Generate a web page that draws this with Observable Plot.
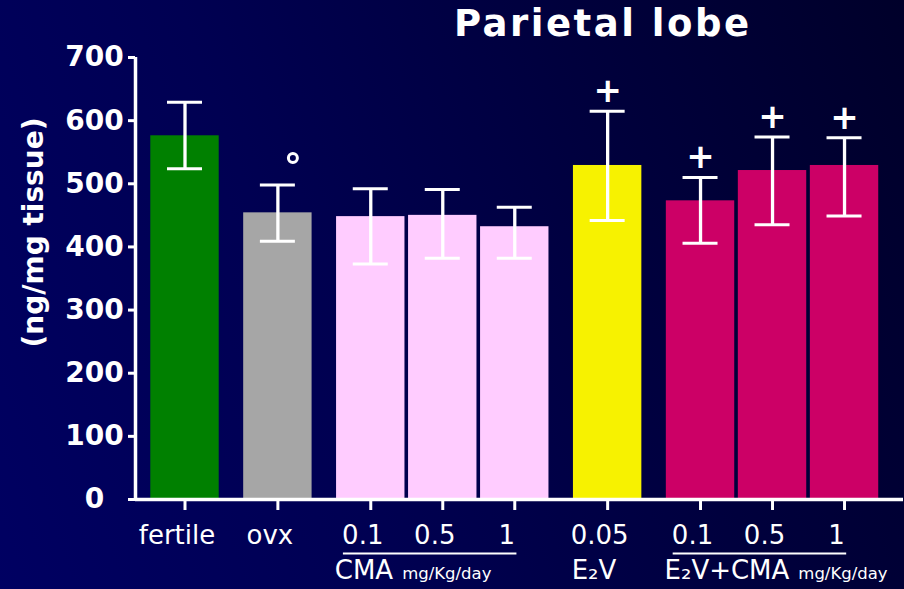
<!DOCTYPE html>
<html>
<head>
<meta charset="utf-8">
<script src="https://cdn.jsdelivr.net/npm/d3@7"></script>
<script src="https://cdn.jsdelivr.net/npm/@observablehq/plot@0.6"></script>
<style>
  html, body { margin: 0; padding: 0; }
  #wrap {
    position: relative; width: 904px; height: 589px; overflow: hidden;
    background: linear-gradient(70deg, #000062 0%, #000052 35%, #00003c 70%, #00002a 100%);
  }
  #title {
    position: absolute; left: 454px; top: 5px;
    font-family: "DejaVu Sans", sans-serif; font-weight: bold; font-size: 37px;
    line-height: 37px; letter-spacing: 2.5px; color: #ffffff; white-space: nowrap;
  }
  #chart { position: absolute; left: 0; top: 0; }
</style>
</head>
<body>
<div id="wrap">
  <div id="chart"></div>
  <div id="title">Parietal lobe</div>
</div>
<script>
// ---- data ----
const categories = ["fertile", "ovx", "CMA 0.1", "CMA 0.5", "CMA 1", "E2V 0.05", "E2V+CMA 0.1", "E2V+CMA 0.5", "E2V+CMA 1"];
const groupOf    = ["fertile", "ovx", "CMA", "CMA", "CMA", "E2V", "E2V+CMA", "E2V+CMA", "E2V+CMA"];
const tickLabels = ["fertile", "ovx", "0.1", "0.5", "1", "0.05", "0.1", "0.5", "1"];
const means      = [576, 454, 448, 450, 432, 529, 473, 521, 529];
const errHigh    = [629, 498, 492, 491, 463, 615, 510, 574, 573];
const errLow     = [524, 409, 373, 382, 382, 442, 406, 435, 449];
const colors     = ["#008000", "#a6a6a6", "#ffccff", "#ffccff", "#ffccff", "#f7f200", "#cc0066", "#cc0066", "#cc0066"];
const signif     = ["", "°", "", "", "", "+", "+", "+", "+"];
const groupLabels = [
  {group: "CMA", label: "CMA", unit: "mg/Kg/day", underline: true},
  {group: "E2V", label: "E\u2082V", unit: "", underline: false},
  {group: "E2V+CMA", label: "E\u2082V+CMA", unit: "mg/Kg/day", underline: true}
];
const yTicks = [0, 100, 200, 300, 400, 500, 600, 700];
const yLabel = "(ng/mg tissue)";

// ---- layout: slot positions (1 unit within a group, wider gap between groups) ----
const groupGap = 1.29;
let p = 0;
const data = categories.map((c, i) => {
  if (i > 0) p += (groupOf[i] === groupOf[i - 1]) ? 1 : groupGap;
  return {cat: c, group: groupOf[i], tick: tickLabels[i], mean: means[i], hi: errHigh[i], lo: errLow[i], color: colors[i], sig: signif[i], pos: p};
});
const groups = groupLabels.map(g => {
  const members = data.filter(d => d.group === g.group);
  return {...g, first: members[0].pos, last: members[members.length - 1].pos};
});
const half = 0.475, cap = 0.243;
const xDomain = [-0.6875, 9.979];
const white = "#ffffff";
const font = "DejaVu Sans, sans-serif";

const chart = Plot.plot({
  width: 904, height: 589,
  marginLeft: 135, marginRight: 1, marginTop: 57, marginBottom: 90,
  style: {background: "transparent", color: white, fontFamily: font},
  x: {domain: xDomain},
  y: {domain: [0, 700]},
  color: {type: "identity"},
  marks: [
    Plot.rect(data, {x1: d => d.pos - half, x2: d => d.pos + half, y1: () => 0, y2: d => d.mean, fill: d => d.color}),
    Plot.ruleX(data, {x: d => d.pos, y1: d => d.lo, y2: d => d.hi, stroke: white, strokeWidth: 3.3}),
    Plot.ruleY(data, {y: d => d.hi, x1: d => d.pos - cap, x2: d => d.pos + cap, stroke: white, strokeWidth: 3}),
    Plot.ruleY(data, {y: d => d.lo, x1: d => d.pos - cap, x2: d => d.pos + cap, stroke: white, strokeWidth: 3}),
    Plot.text(data.filter(d => d.sig === "+"), {x: d => d.pos, y: d => d.hi, dy: -20, text: d => d.sig, fill: white, fontSize: 34, fontWeight: "bold", fontFamily: font}),
    Plot.dot(data.filter(d => d.sig === "°"), {x: d => d.pos, y: d => d.hi, dx: 15, dy: -27, r: 4.5, stroke: white, strokeWidth: 3, fill: "none"}),
    // axes
    Plot.ruleY([0], {stroke: white, strokeWidth: 3.5}),
    Plot.ruleX([xDomain[0]], {stroke: white, strokeWidth: 3.5}),
    Plot.axisY(yTicks, {tickSize: 7, strokeWidth: 3, stroke: white, tickFormat: () => "", label: null}),
    Plot.axisX(data.map(d => d.pos), {tickSize: 11, strokeWidth: 3, stroke: white, tickFormat: () => "", label: null}),
    Plot.text(yTicks, {y: d => d, frameAnchor: "left", dx: -41, textAnchor: "middle", lineAnchor: "middle", text: d => String(d), fill: white, fontSize: 28, fontWeight: "bold", fontFamily: font}),
    Plot.text([yLabel], {frameAnchor: "left", textAnchor: "middle", lineAnchor: "middle", rotate: -90, dx: -101, dy: -46, fill: white, fontSize: 28, fontWeight: "bold", fontFamily: font}),
    // category labels
    Plot.text(data, {x: d => d.pos, frameAnchor: "bottom", lineAnchor: "middle", dx: -8, dy: 36, text: d => d.tick, fill: white, fontSize: 26, fontFamily: font}),
    Plot.ruleY(groups.filter(g => g.underline), {y: () => 0, x1: g => g.first - 0.38, x2: g => g.last + 0.03, dy: 54, stroke: white, strokeWidth: 2}),
    Plot.text(groups, {x: g => g.first, frameAnchor: "bottom", textAnchor: "start", lineAnchor: "middle", dx: -36, dy: 71, text: g => g.unit ? g.label + "|" + g.unit : g.label, fill: white, fontSize: 26, fontFamily: font})
  ]
});

// small unit suffix as a tspan
chart.querySelectorAll("text").forEach(t => {
  const s = t.textContent;
  if (s.includes("|")) {
    const [main, unit] = s.split("|");
    t.textContent = main;
    const ts = document.createElementNS("http://www.w3.org/2000/svg", "tspan");
    ts.setAttribute("font-size", "16.5");
    ts.setAttribute("dx", "9");
    ts.textContent = unit;
    t.appendChild(ts);
  }
});
document.getElementById("chart").appendChild(chart);
</script>
</body>
</html>
